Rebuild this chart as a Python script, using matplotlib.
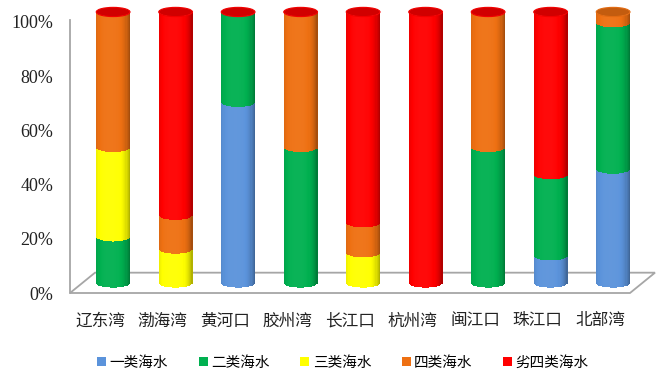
import numpy as np
import matplotlib
matplotlib.use("Agg")
import matplotlib.pyplot as plt
from matplotlib.patches import Ellipse, Polygon, Patch

plt.rcParams['font.family'] = ['Noto Sans CJK SC', 'DejaVu Sans']

# data (percent of monitored area per sea-water class)
bays = ['辽东湾', '渤海湾', '黄河口', '胶州湾', '长江口', '杭州湾', '闽江口', '珠江口', '北部湾']
series = ['一类海水', '二类海水', '三类海水', '四类海水', '劣四类海水']
class1 = [0, 0, 66.7, 0, 0, 0, 0, 10, 42]
class2 = [17, 0, 33.3, 50, 0, 0, 50, 30, 54]
class3 = [33, 12.5, 0, 0, 11.1, 0, 0, 0, 0]
class4 = [50, 12.5, 0, 50, 11.1, 0, 50, 0, 4]
worse4 = [0, 75, 0, 0, 77.8, 100, 0, 60, np.nan]   # blank for 北部湾
colors = ['#5b93db', '#00b050', '#ffff00', '#ee7012', '#ff0000']

data = np.array([class1, class2, class3, class4, worse4], dtype=float)

fig = plt.figure(figsize=(6.61, 3.78), dpi=100)
ax = fig.add_axes([70 / 661, 85 / 378, 560 / 661, 271 / 378])
ax.set_xlim(-0.48, 8.48)
ax.set_ylim(0, 100)

# fake 3d: bars sit half way back on the floor
dx, dy = 0.21, 3.7
w, h = 0.54, 3.4
depth_x, depth_y = 0.40, 7.5

floor = Polygon([(-0.48, 0), (8.48, 0), (8.48 + depth_x, depth_y), (-0.48 + depth_x, depth_y)],
                closed=True, facecolor='white', edgecolor='#a6a6a6', lw=1.3, clip_on=False, zorder=1)
ax.add_patch(floor)


def shade(c, f):
    c = np.array(matplotlib.colors.to_rgb(c))
    if f < 1:
        return tuple(c * f)
    return tuple(c + (1 - c) * (f - 1))


N = 30
u = (np.arange(N) + 0.5) / N - 0.5
curve = (h / 2) * np.sqrt(1 - (2 * u) ** 2)
prof = 1.04 - 0.32 * ((u + 0.08) / 0.58) ** 4 - 0.06 * ((u + 0.08) / 0.58) ** 2

x = np.arange(len(bays))
bottoms = np.zeros(len(bays))
vals = np.nan_to_num(data)
for j in range(len(series)):
    for i in range(len(bays)):
        v = vals[j, i]
        if v <= 0:
            continue
        xs = x[i] + dx + u * w
        ys = bottoms[i] + dy - curve
        cols = [shade(colors[j], f) for f in prof]
        ax.bar(xs, v, width=w / N * 1.1, bottom=ys, color=cols, lw=0, clip_on=False, zorder=3)
    bottoms += vals[j]

# top caps take the colour of the last (non blank) series
for i in range(len(bays)):
    top = [j for j in range(len(series)) if not np.isnan(data[j, i])][-1]
    ax.add_patch(Ellipse((x[i] + dx, 100 + dy), w, h, facecolor=shade(colors[top], 0.82),
                         edgecolor=shade(colors[top], 0.95), lw=0.8, clip_on=False, zorder=4))

ax.set_yticks(np.arange(0, 101, 20))
ax.set_yticklabels(['%d%%' % t for t in range(0, 101, 20)], family='Liberation Serif', fontsize=13)
ax.set_xticks(x)
ax.set_xticklabels(bays, fontsize=12)
ax.tick_params(axis='y', length=0, pad=12, colors='#222222')
ax.tick_params(axis='x', length=0, pad=14, colors='#222222')
for s in ['top', 'right', 'bottom']:
    ax.spines[s].set_visible(False)
ax.spines['left'].set_color('#a6a6a6')
ax.spines['left'].set_linewidth(1.3)
ax.spines['left'].set_bounds(0, 100.7)
ax.patch.set_visible(False)

handles = [Patch(facecolor=c, edgecolor='none') for c in colors]
fig.legend(handles, series, loc='center', bbox_to_anchor=(0.519, 0.04), ncol=5, frameon=False,
           fontsize=10.5, handlelength=0.6, handleheight=0.6, handletextpad=0.25, columnspacing=2.1)

fig.savefig('out.png', dpi=100, facecolor='white')
